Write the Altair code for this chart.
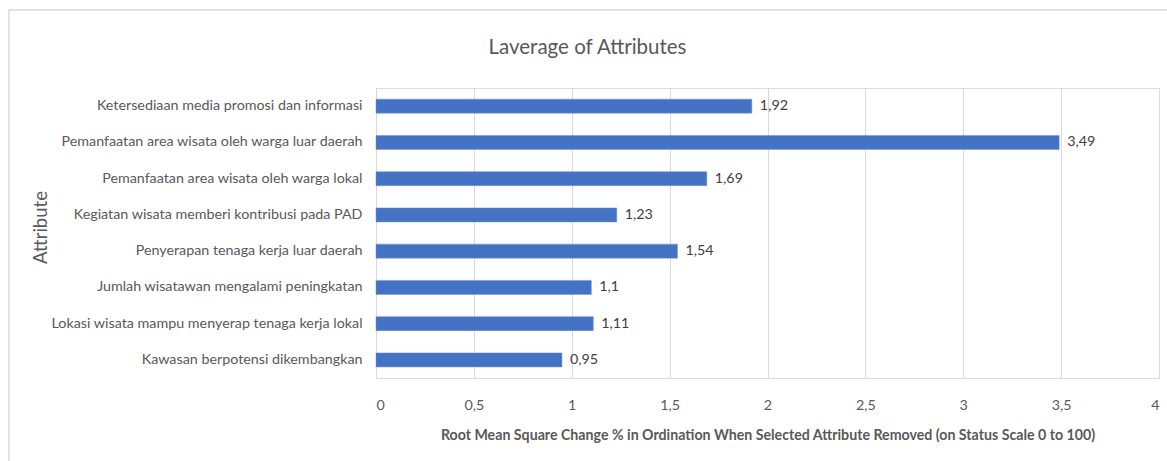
import altair as alt
import pandas as pd

attributes = [
    "Ketersediaan media promosi dan informasi",
    "Pemanfaatan area wisata oleh warga luar daerah",
    "Pemanfaatan area wisata oleh warga lokal",
    "Kegiatan wisata memberi kontribusi pada PAD",
    "Penyerapan tenaga kerja luar daerah",
    "Jumlah wisatawan mengalami peningkatan",
    "Lokasi wisata mampu menyerap tenaga kerja lokal",
    "Kawasan berpotensi dikembangkan",
]
values = [1.92, 3.49, 1.69, 1.23, 1.54, 1.1, 1.11, 0.95]
x_ticks = [0, 0.5, 1, 1.5, 2, 2.5, 3, 3.5, 4]

df = pd.DataFrame({"attribute": attributes, "value": values})

FONT = "Lato"
TXT = "#595959"

x_enc = alt.X(
    "value:Q",
    scale=alt.Scale(domain=[0, 4], nice=False, zero=True),
    axis=alt.Axis(
        values=x_ticks,
        labelExpr="replace(toString(datum.value), '.', ',')",
        grid=True,
        gridColor="#D9D9D9",
        domain=False,
        ticks=False,
        labelPadding=20,
        labelFontSize=14.3,
        labelColor=TXT,
        labelFont=FONT,
        title="Root Mean Square Change % in Ordination When Selected Attribute Removed (on Status Scale 0  to 100)",
        titleFont=FONT,
        titleFontSize=14.2,
        titleFontWeight="bold",
        titleColor=TXT,
        titleY=57,
        titleBaseline="middle",
    ),
)
y_enc = alt.Y(
    "attribute:N",
    sort=attributes,
    scale=alt.Scale(paddingInner=0, paddingOuter=0),
    axis=alt.Axis(
        domain=True,
        domainColor="#D9D9D9",
        ticks=False,
        grid=False,
        labelPadding=14,
        labelFontSize=14.3,
        labelColor=TXT,
        labelFont=FONT,
        labelLimit=400,
        title="Attribute",
        titleFont=FONT,
        titleFontSize=18.5,
        titleFontWeight="normal",
        titleColor=TXT,
        titleX=-336,
        titleY=139,
        titleAngle=270,
        titleBaseline="middle",
        titleAlign="center",
    ),
)

bars = alt.Chart(df).mark_bar(color="#4472C4", size=14, stroke="#6F93D6", strokeWidth=0.5).encode(
    x=x_enc, y=y_enc
)
labels = alt.Chart(df).transform_calculate(
    lbl="replace(toString(datum.value), '.', ',')"
).mark_text(align="left", baseline="middle", dx=8, fontSize=14.3, font=FONT, color="#404040").encode(
    x="value:Q", y=alt.Y("attribute:N", sort=attributes), text="lbl:N"
)

border = alt.Chart(pd.DataFrame({"b": [0]})).mark_rect(
    fill="transparent", stroke="#D9D9D9", strokeWidth=1.5
).encode(
    x=alt.value(-367), x2=alt.value(800), y=alt.value(-78), y2=alt.value(390)
)

chart = (
    alt.layer(border, bars, labels)
    .properties(
        width=783,
        height=290,
        title=alt.TitleParams(
            "Laverage of Attributes",
            anchor="middle",
            dx=-180,
            offset=0,
            dy=49,
            fontSize=20.5,
            font=FONT,
            fontWeight="normal",
            color=TXT,
        ),
        autosize=alt.AutoSizeParams(type="none"),
        padding={"left": 376, "top": 88, "right": 8, "bottom": 83},
    )
    .configure_view(stroke=None)
    .configure(background="white")
)

chart.save("out.html", embed_options={"renderer": "svg", "actions": False})
